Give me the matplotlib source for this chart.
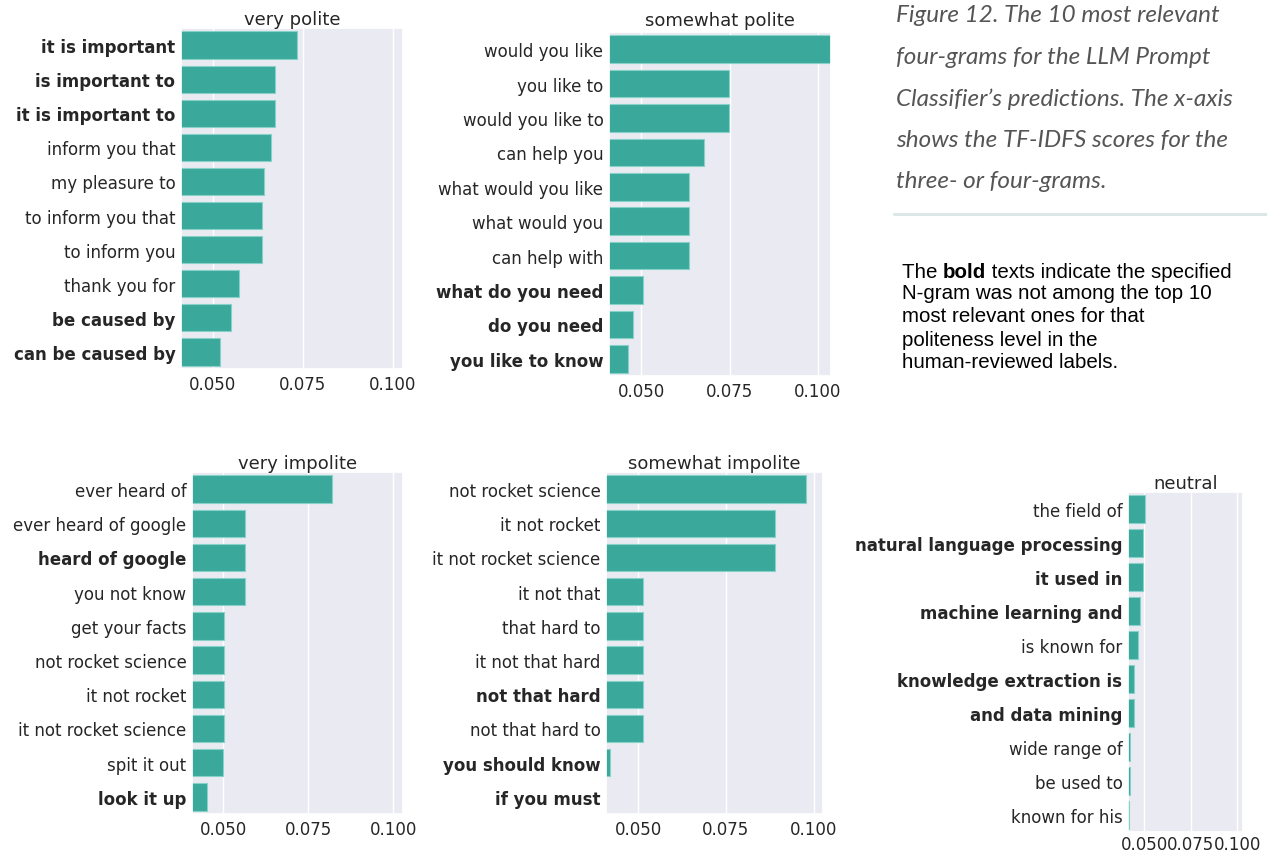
import matplotlib
matplotlib.use("Agg")
import matplotlib.pyplot as plt
import seaborn as sns

sns.set_theme(style="darkgrid")
plt.rcParams['font.family'] = ['DejaVu Sans']

# ---------------- data ----------------
vp_labels = ["it is important", "is important to", "it is important to", "inform you that",
             "my pleasure to", "to inform you that", "to inform you", "thank you for",
             "be caused by", "can be caused by"]
vp_values = [0.0734, 0.0674, 0.0674, 0.0662, 0.0642, 0.0638, 0.0638, 0.0574, 0.0552, 0.0521]
vp_bold = [True, True, True, False, False, False, False, False, True, True]

sp_labels = ["would you like", "you like to", "would you like to", "can help you",
             "what would you like", "what would you", "can help with", "what do you need",
             "do you need", "you like to know"]
sp_values = [0.1060, 0.0749, 0.0749, 0.0676, 0.0634, 0.0634, 0.0634, 0.0505, 0.0476, 0.0462]
sp_bold = [False, False, False, False, False, False, False, True, True, True]

vi_labels = ["ever heard of", "ever heard of google", "heard of google", "you not know",
             "get your facts", "not rocket science", "it not rocket", "it not rocket science",
             "spit it out", "look it up"]
vi_values = [0.0819, 0.0564, 0.0564, 0.0564, 0.0503, 0.0503, 0.0503, 0.0503, 0.0499, 0.0452]
vi_bold = [False, False, True, False, False, False, False, False, False, True]

si_labels = ["not rocket science", "it not rocket", "it not rocket science", "it not that",
             "that hard to", "it not that hard", "not that hard", "not that hard to",
             "you should know", "if you must"]
si_values = [0.0978, 0.0891, 0.0891, 0.0514, 0.0514, 0.0514, 0.0514, 0.0514, 0.0419, 0.0400]
si_bold = [False, False, False, False, False, False, True, False, True, True]

ne_labels = ["the field of", "natural language processing", "it used in", "machine learning and",
             "is known for", "knowledge extraction is", "and data mining", "wide range of",
             "be used to", "known for his"]
ne_values = [0.0504, 0.0496, 0.0492, 0.0476, 0.0469, 0.0445, 0.0445, 0.0426, 0.0426, 0.0421]
ne_bold = [False, True, True, True, False, True, True, False, False, False]

titles = ["very polite", "somewhat polite", "very impolite", "somewhat impolite", "neutral"]
xticks = [0.050, 0.075, 0.100]

caption_lines = ["Figure 12. The 10 most relevant",
                 "four-grams for the LLM Prompt",
                 "Classifier\u2019s predictions. The x-axis",
                 "shows the TF-IDFS scores for the",
                 "three- or four-grams."]

# ---------------- layout ----------------
W, H = 1267, 854
fig = plt.figure(figsize=(W / 100, H / 100), dpi=100)
fig.patch.set_facecolor("white")

def px_axes(left, top, right, bottom):
    return fig.add_axes([left / W, 1 - bottom / H, (right - left) / W, (bottom - top) / H])

panels = [
    (vp_labels, vp_values, vp_bold, (181, 29, 403, 370), (0.0412, 0.1028), 3),
    (sp_labels, sp_values, sp_bold, (609, 33, 831, 377), (0.0408, 0.1037), 5),
    (vi_labels, vi_values, vi_bold, (192, 473, 403, 815), (0.0408, 0.1028), 3),
    (si_labels, si_values, si_bold, (606, 473, 823, 815), (0.0408, 0.1027), 3),
    (ne_labels, ne_values, ne_bold, (1128, 493, 1243, 833), (0.0413, 0.1030), 3),
]

DV = "DejaVu Sans"
bar_color = "#3aa89b"
for i, ((labels, values, bold, box, xlim, tpad), title) in enumerate(zip(panels, titles)):
    ax = px_axes(*box)
    ypos = list(range(len(labels)))
    ax.barh(ypos, values, height=0.8, color=bar_color, edgecolor="#86d2c8", linewidth=0.8, zorder=2)
    ax.set_xlim(*xlim)
    ax.set_ylim(len(labels) - 0.5, -0.5)
    ax.set_yticks(ypos)
    ax.set_yticklabels(labels, fontsize=12, color="#262626", family=DV)
    for lab, b in zip(ax.get_yticklabels(), bold):
        lab.set_fontweight("bold" if b else "normal")
    ax.set_xticks(xticks)
    ax.set_xticklabels(["%.3f" % t for t in xticks], fontsize=12, color="#262626", family=DV)
    ax.grid(axis="y", visible=False)
    ax.grid(axis="x", color="white", linewidth=1.0)
    ax.set_axisbelow(True)
    ax.tick_params(axis="y", length=0, pad=4)
    ax.tick_params(axis="x", length=0, pad=2 if i == 4 else 4)
    ax.set_title(title, fontsize=13, color="#262626", pad=tpad, family=DV)

# ---------------- caption ----------------
cap_y = [15, 57, 99, 140, 182]
for line, y in zip(caption_lines, cap_y):
    fig.text(896 / W, 1 - y / H, line, fontsize=17.5, family="Lato", style="italic",
             weight="normal", color="#555555", va="center", ha="left")

fig.add_artist(plt.Line2D([894 / W, 1.0], [1 - 215 / H, 1 - 215 / H], color="#dbe8e6", linewidth=2.2))

note_y = [272, 294, 317, 340, 362]
note_lines = [
    None,
    "N-gram was not among the top 10",
    "most relevant ones for that",
    "politeness level in the",
    "human-reviewed labels.",
]
fs_note = 14.8
fam = "Liberation Sans"
t1 = fig.text(902 / W, 1 - note_y[0] / H, "The ", fontsize=fs_note, family=fam, color="black",
              va="center", ha="left")
fig.canvas.draw()
r = fig.canvas.get_renderer()
bb = t1.get_window_extent(r)
t2 = fig.text(bb.x1 / W, 1 - note_y[0] / H, "bold", fontsize=fs_note, family=fam, weight="bold",
              color="black", va="center", ha="left")
bb2 = t2.get_window_extent(r)
fig.text(bb2.x1 / W, 1 - note_y[0] / H, " texts indicate the specified", fontsize=fs_note, family=fam,
         color="black", va="center", ha="left")
for line, y in zip(note_lines[1:], note_y[1:]):
    fig.text(902 / W, 1 - y / H, line, fontsize=fs_note, family=fam, color="black",
             va="center", ha="left")

fig.savefig("out.png", dpi=100, facecolor="white")
